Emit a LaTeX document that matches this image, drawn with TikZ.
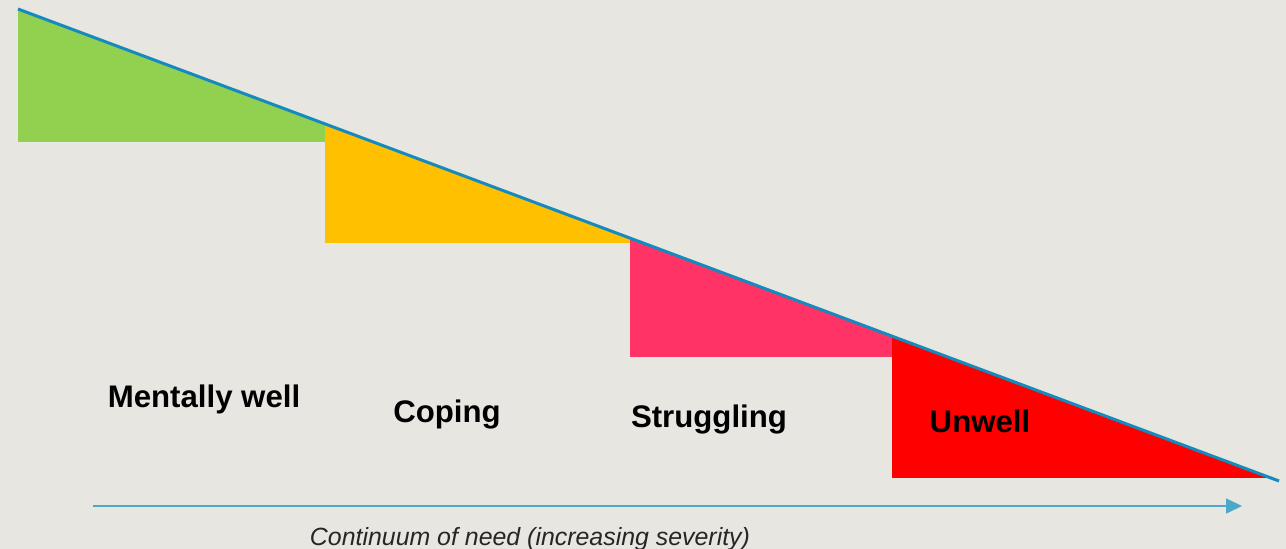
\documentclass[tikz,border=0pt]{standalone}
\usepackage{fontspec}
\setmainfont{Liberation Sans}
\usetikzlibrary{arrows.meta}
\definecolor{bgc}{RGB}{231,230,225}
\definecolor{wellgreen}{RGB}{146,208,80}
\definecolor{copeyellow}{RGB}{255,192,0}
\definecolor{strugglepink}{RGB}{255,51,102}
\definecolor{unwellred}{RGB}{255,0,0}
\definecolor{slopeblue}{RGB}{20,138,190}
\definecolor{axisblue}{RGB}{75,168,200}
\tikzset{
  stagelabel/.style={font=\fontsize{31.2}{36}\selectfont\bfseries, text=black, inner sep=0pt},
  axislabel/.style={font=\fontsize{24.9}{28}\selectfont\itshape, text=black!85, inner sep=0pt, anchor=base},
  axisarrow/.style={draw=axisblue, line width=1.6pt, -{Triangle[length=16pt,width=15pt]}},
  slopeline/.style={draw=slopeblue, line width=3pt},
}
\begin{document}
\begin{tikzpicture}[x=1pt,y=-1pt]
  % canvas
  \fill[bgc] (0,0) rectangle (1286,549);
  \useasboundingbox (0,0) rectangle (1286,549);

  % ends of the sloping line
  \coordinate (top) at (18,9);
  \coordinate (bottom) at (1279,481);

  % coloured stages, each cut off by the slope
  \begin{scope}
    \clip (top) -- (bottom) -- (18,481) -- cycle;
    \fill[wellgreen]    (18,0)  rectangle (325,142);
    \fill[copeyellow]   (325,0) rectangle (630,243);
    \fill[strugglepink] (630,0) rectangle (892,357);
    \fill[unwellred]    (892,0) rectangle (1286,478);
  \end{scope}

  \draw[slopeline] (top) -- (bottom);

  % stage names
  \node[stagelabel] (well) at (204,399) {Mentally well};
  \node[stagelabel] (coping) at (447,414) {Coping};
  \node[stagelabel] (struggling) at (709,419) {Struggling};
  \node[stagelabel] (unwell) at (980,421) {Unwell};

  % axis of need
  \coordinate (axisstart) at (93,506);
  \coordinate (axisend) at (1242,506);
  \draw[axisarrow] (axisstart) -- (axisend);
  \node[axislabel] (axistext) at (530,545) {Continuum of need (increasing severity)};
\end{tikzpicture}
\end{document}
